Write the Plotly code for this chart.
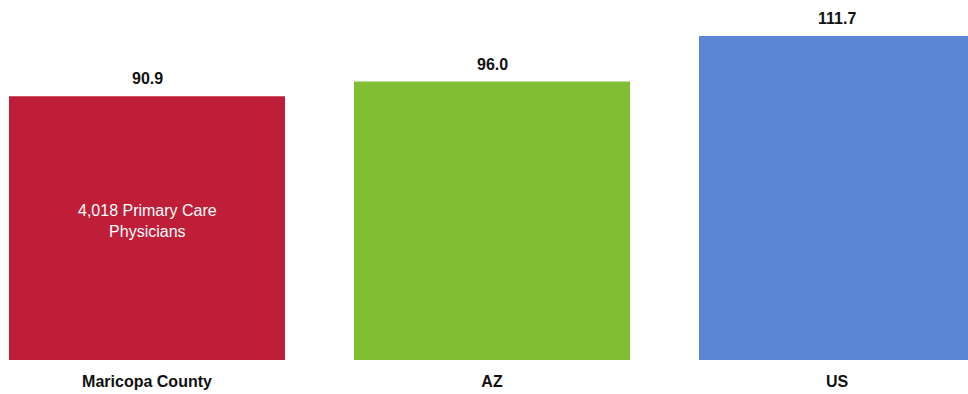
import plotly.graph_objects as go

# Primary care physicians per 100,000 population
categories = ["Maricopa County", "AZ", "US"]
values = [90.9, 96.0, 111.7]
bar_colors = ["#BE1E37", "#80BF33", "#5B86D6"]
inner_note = "4,018 Primary Care<br>Physicians"
inner_note_y = 48

FONT = "Liberation Sans Narrow, Arial Narrow, Liberation Sans, Arial, sans-serif"

fig = go.Figure(
    go.Bar(
        x=categories,
        y=values,
        marker=dict(color=bar_colors, line=dict(width=0)),
        hoverinfo="skip",
    )
)

# value labels above each bar
for cat, val in zip(categories, values):
    fig.add_annotation(
        x=cat, y=val, text=f"<b>{val:.1f}</b>", showarrow=False,
        yanchor="bottom", yshift=7,
        font=dict(family=FONT, size=16, color="#111111"),
    )

# note inside the county bar
fig.add_annotation(
    x=categories[0], y=inner_note_y, text=inner_note, showarrow=False,
    yanchor="middle", font=dict(family=FONT, size=16, color="#FFFFFF"),
)

fig.update_layout(
    width=968, height=394,
    margin=dict(l=0, r=0, t=0, b=34),
    paper_bgcolor="white", plot_bgcolor="white",
    bargap=0.2, showlegend=False,
    xaxis=dict(
        range=[-0.4261, 2.3797], showgrid=False, zeroline=False, showline=False,
        ticks="", ticklabelstandoff=10,
        tickfont=dict(family=FONT, size=16, color="#111111"),
        tickvals=categories, ticktext=[f"<b>{c}</b>" for c in categories],
    ),
    yaxis=dict(range=[0, 124.1], visible=False),
)

fig.write_html("out.html")
